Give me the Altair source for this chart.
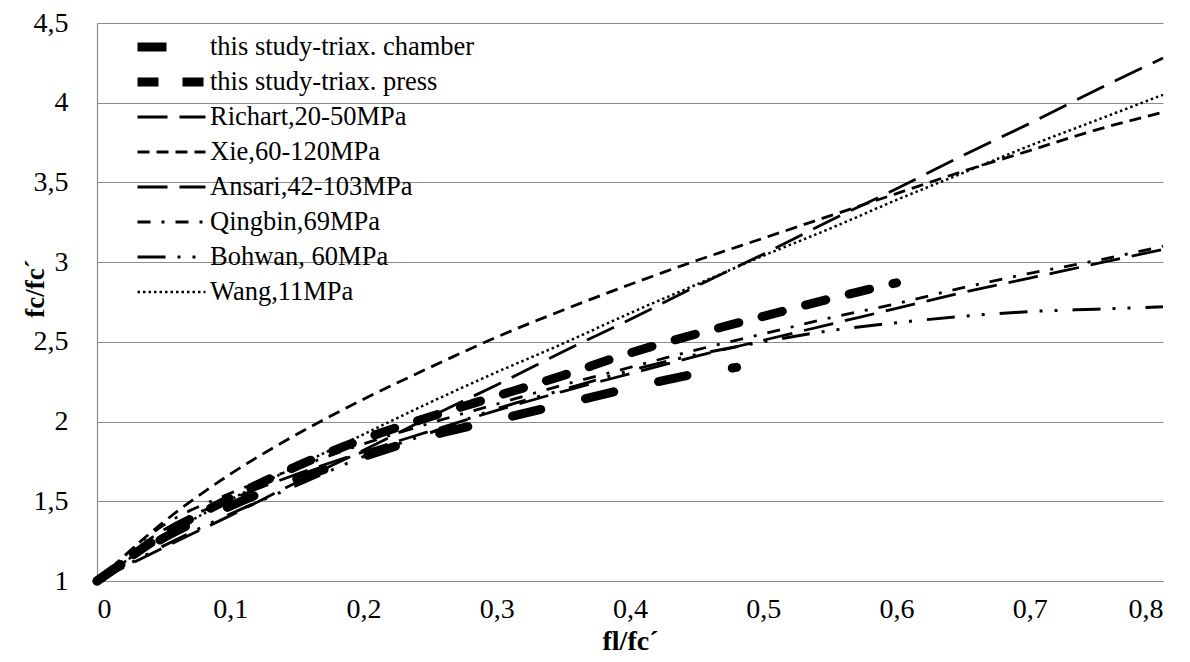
import altair as alt
import pandas as pd

# ---- data ----
x_grid = [0, 0.05, 0.1, 0.15, 0.2, 0.25, 0.3, 0.35, 0.4, 0.45, 0.5, 0.55, 0.6, 0.65, 0.7, 0.75, 0.8]

x_chamber = [0, 0.05, 0.1, 0.15, 0.2, 0.25, 0.3, 0.35, 0.4, 0.45, 0.48]
y_chamber = [1.00, 1.27, 1.47, 1.64, 1.78, 1.91, 2.01, 2.11, 2.21, 2.30, 2.34]

x_press = [0, 0.05, 0.1, 0.15, 0.2, 0.25, 0.3, 0.35, 0.4, 0.45, 0.5, 0.55, 0.6]
y_press = [1.00, 1.29, 1.52, 1.72, 1.89, 2.03, 2.16, 2.29, 2.43, 2.55, 2.66, 2.77, 2.87]

y_richart = [1.00, 1.21, 1.41, 1.62, 1.82, 2.03, 2.23, 2.44, 2.64, 2.85, 3.05, 3.26, 3.46, 3.67, 3.87, 4.08, 4.28]
y_xie = [1.00, 1.37, 1.67, 1.92, 2.14, 2.34, 2.53, 2.70, 2.86, 3.01, 3.15, 3.29, 3.43, 3.57, 3.70, 3.83, 3.94]
y_ansari = [1.00, 1.32, 1.51, 1.67, 1.81, 1.94, 2.07, 2.19, 2.30, 2.41, 2.51, 2.61, 2.71, 2.81, 2.90, 2.99, 3.08]
y_qingbin = [1.00, 1.35, 1.55, 1.71, 1.86, 1.99, 2.11, 2.23, 2.34, 2.45, 2.55, 2.65, 2.74, 2.84, 2.93, 3.01, 3.10]
y_bohwan = [1.00, 1.22, 1.42, 1.60, 1.78, 1.93, 2.08, 2.20, 2.32, 2.42, 2.50, 2.57, 2.62, 2.66, 2.69, 2.705, 2.72]
y_wang = [1.00, 1.28, 1.51, 1.72, 1.92, 2.12, 2.31, 2.49, 2.68, 2.86, 3.04, 3.21, 3.39, 3.56, 3.73, 3.89, 4.05]

series_names = [
    "this study-triax. chamber",
    "this study-triax. press",
    "Richart,20-50MPa",
    "Xie,60-120MPa",
    "Ansari,42-103MPa",
    "Qingbin,69MPa",
    "Bohwan, 60MPa",
    "Wang,11MPa",
]
series_x = [x_chamber, x_press, x_grid, x_grid, x_grid, x_grid, x_grid, x_grid]
series_y = [y_chamber, y_press, y_richart, y_xie, y_ansari, y_qingbin, y_bohwan, y_wang]
thick_series = series_names[:2]
thin_series = series_names[2:]

x_ticks = [0, 0.1, 0.2, 0.3, 0.4, 0.5, 0.6, 0.7, 0.8]
y_ticks = [1, 1.5, 2, 2.5, 3, 3.5, 4, 4.5]

# ---- styles ----
dashes = [
    [29, 46],
    [21, 24],
    [30, 12],
    [12, 7],
    [30, 12],
    [13, 11, 3, 11],
    [28, 12, 3, 12, 3, 15],
    [2.5, 3],
]
widths = [9, 9, 2.8, 2.8, 2.8, 2.8, 3.0, 2.5]
colors = ["#000000"] * len(series_names)

rows = []
for name, xs, ys in zip(series_names, series_x, series_y):
    for i, (xv, yv) in enumerate(zip(xs, ys)):
        rows.append({"series": name, "x": xv, "y": yv, "order": i})
df = pd.DataFrame(rows)

FONT = "Liberation Serif"
GRID = "#8c8c8c"

legend = alt.Legend(
    title=None,
    orient="none",
    legendX=36,
    legendY=6.7,
    direction="vertical",
    columns=1,
    padding=0,
    symbolType="stroke",
    symbolSize=4624,
    clipHeight=34.57,
    rowPadding=0,
    labelOffset=0,
    labelFont=FONT,
    labelFontSize=26.5,
    labelColor="#000000",
    labelLimit=500,
)

x_enc = alt.X(
    "x:Q",
    scale=alt.Scale(domain=[0, 0.8], nice=False, zero=False),
    axis=alt.Axis(
        values=x_ticks,
        labelExpr="replace(toString(datum.value), '.', ',')",
        grid=False,
        domainColor=GRID,
        domainWidth=1.2,
        ticks=False,
        labelPadding=14,
        labelFont=FONT,
        labelFontSize=28,
        labelColor="#000000",
        title="fl/fc´",
        titleFont=FONT,
        titleFontSize=28,
        titleFontWeight="bold",
        titleColor="#000000",
        titleY=68,
        titleBaseline="alphabetic",
    ),
)
y_enc = alt.Y(
    "y:Q",
    scale=alt.Scale(domain=[1, 4.5], nice=False, zero=False),
    axis=alt.Axis(
        values=y_ticks,
        labelExpr="replace(toString(datum.value), '.', ',')",
        grid=True,
        gridColor=GRID,
        gridWidth=1.2,
        domainColor=GRID,
        domainWidth=1.2,
        ticks=False,
        labelPadding=29,
        labelFont=FONT,
        labelFontSize=28,
        labelColor="#000000",
        title="fc/fc´",
        titleFont=FONT,
        titleFontSize=27,
        titleFontWeight="bold",
        titleColor="#000000",
        titleX=-62,
        titleY=265,
        titleAlign="center",
        titleBaseline="middle",
    ),
)
enc = dict(
    x=x_enc,
    y=y_enc,
    color=alt.Color("series:N", scale=alt.Scale(domain=series_names, range=colors), legend=legend),
    strokeDash=alt.StrokeDash("series:N", scale=alt.Scale(type="ordinal", domain=series_names, range=dashes), legend=legend),
    strokeWidth=alt.StrokeWidth("series:N", scale=alt.Scale(type="ordinal", domain=series_names, range=widths), legend=legend),
    order="order:Q",
)

base = alt.Chart(df)
thin = (
    base.transform_filter(alt.FieldOneOfPredicate(field="series", oneOf=thin_series))
    .mark_line(strokeCap="butt", strokeJoin="round", interpolate="monotone")
    .encode(**enc)
)
thick = (
    base.transform_filter(alt.FieldOneOfPredicate(field="series", oneOf=thick_series))
    .mark_line(strokeCap="round", strokeJoin="round", interpolate="monotone")
    .encode(**enc)
)

chart = (
    alt.layer(thin, thick)
    .properties(
        width=1066,
        height=558,
        autosize=alt.AutoSizeParams(type="none"),
        padding={"left": 89, "top": 15, "right": 19, "bottom": 73},
    )
    .configure(font=FONT)
    .configure_axis(labelFont=FONT, titleFont=FONT)
    .configure_legend(labelFont=FONT)
    .configure_view(stroke="transparent")
)

chart.save("out.html", embed_options={"renderer": "svg", "actions": False})
